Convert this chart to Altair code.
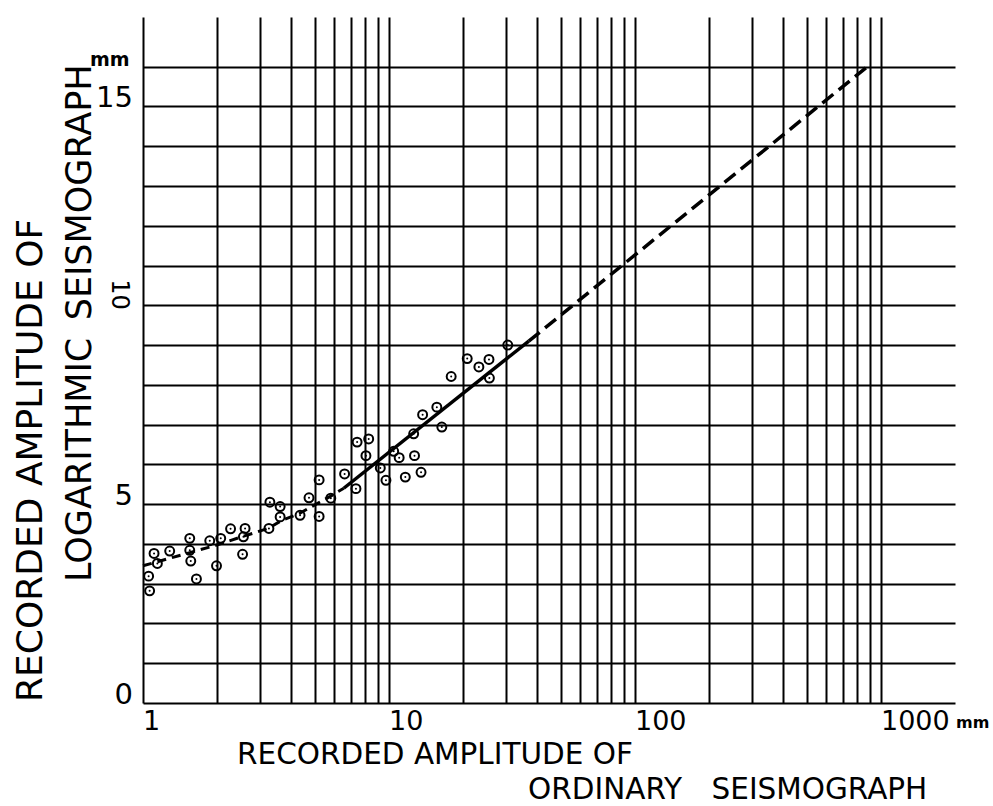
import altair as alt
import pandas as pd

# ---- data ----
amp_ordinary = [1.054, 1.064, 1.109, 1.144, 1.284, 1.549, 1.549, 1.564, 1.649, 1.868,
                1.99, 2.07, 2.27, 2.54, 2.60, 2.56, 3.25, 3.28, 3.61, 3.61,
                4.35, 4.73, 5.20, 5.20, 5.80, 6.60, 7.34, 7.42, 8.06, 8.27,
                9.22, 9.72, 10.45, 11.0, 11.65, 12.6, 12.7, 13.5, 13.7,
                15.65, 16.4, 17.9, 20.8, 23.2, 25.5, 25.6, 30.4]
amp_logarithmic = [3.19, 2.82, 3.76, 3.51, 3.82, 4.14, 3.84, 3.57, 3.12, 4.08,
                   3.45, 4.14, 4.38, 3.74, 4.39, 4.18, 4.39, 5.05, 4.94, 4.68,
                   4.72, 5.16, 5.61, 4.69, 5.15, 5.76, 5.39, 6.56, 6.22, 6.64,
                   5.91, 5.60, 6.33, 6.17, 5.68, 6.77, 6.22, 5.80, 7.25,
                   7.44, 6.94, 8.21, 8.66, 8.45, 8.64, 8.17, 9.00]

curve_x = [1.0, 1.99, 2.52, 3.23, 3.66, 4.28, 4.85, 5.75, 6.55]
curve_y = [3.45, 3.97, 4.18, 4.39, 4.59, 4.75, 4.94, 5.19, 5.40]
solid_x = [6.55, 37.0]
solid_y = [5.40, 9.10]
upper_x = [37.0, 900.0]
upper_y = [9.10, 16.05]

x_grid = [1, 2, 3, 4, 5, 6, 7, 8, 9, 10, 20, 30, 40, 50, 60, 70, 80, 90,
          100, 200, 300, 400, 500, 600, 700, 800, 900, 1000]
y_grid = [0, 1, 2, 3, 4, 5, 6, 7, 8, 9, 10, 11, 12, 13, 14, 15, 16]

x_tick_values = [1, 10, 100, 1000]
x_tick_labels = ["1", "10", "100", "1000"]
y_tick_values = [0, 5, 10, 15]
y_tick_labels = ["0", "5", "10", "15"]

x_title = ["RECORDED AMPLITUDE OF", "ORDINARY\u2003SEISMOGRAPH"]
y_title = ["RECORDED AMPLITUDE OF", "LOGARITHMIC\u2002SEISMOGRAPH"]
unit = "mm"

FONT = "DejaVu Sans"
W, H = 812, 686

xs = alt.Scale(type="log", domain=[1, 2000], nice=False)
ys = alt.Scale(domain=[0, 17.25], nice=False, zero=False)

pts = pd.DataFrame({"x": amp_ordinary, "y": amp_logarithmic})
curve = pd.DataFrame({"x": curve_x, "y": curve_y, "o": list(range(len(curve_x)))})
solid = pd.DataFrame({"x": solid_x, "y": solid_y})
upper = pd.DataFrame({"x": upper_x, "y": upper_y})

xaxis = alt.Axis(values=x_grid, labels=False, ticks=False, domain=False, title=None,
                 grid=True, gridColor="black", gridWidth=2, gridOpacity=1)
yaxis = alt.Axis(values=y_grid, labels=False, ticks=False, domain=False, title=None,
                 grid=True, gridColor="black", gridWidth=2, gridOpacity=1)

base_pts = alt.Chart(pts)
circles = base_pts.mark_point(shape="circle", filled=False, color="black",
                              strokeWidth=2, size=80, opacity=1).encode(
    x=alt.X("x:Q", scale=xs, axis=xaxis),
    y=alt.Y("y:Q", scale=ys, axis=yaxis),
)
dots = base_pts.mark_circle(color="black", size=4, opacity=1).encode(
    x=alt.X("x:Q", scale=xs), y=alt.Y("y:Q", scale=ys))

curve_line = alt.Chart(curve).mark_line(color="black", strokeWidth=3,
                                        strokeDash=[9, 6]).encode(
    x=alt.X("x:Q", scale=xs), y=alt.Y("y:Q", scale=ys), order="o:Q")
solid_line = alt.Chart(solid).mark_line(color="black", strokeWidth=3.5).encode(
    x=alt.X("x:Q", scale=xs), y=alt.Y("y:Q", scale=ys))
upper_line = alt.Chart(upper).mark_line(color="black", strokeWidth=3.5,
                                        strokeDash=[14, 7]).encode(
    x=alt.X("x:Q", scale=xs), y=alt.Y("y:Q", scale=ys))

xt = pd.DataFrame({"x": x_tick_values, "label": x_tick_labels})
x_labels = alt.Chart(xt).mark_text(align="left", baseline="alphabetic", fontSize=27,
                                   font=FONT, color="black", dx=0).encode(
    x=alt.X("x:Q", scale=xs), y=alt.value(713), text="label:N")

yt = pd.DataFrame({"y": y_tick_values, "label": y_tick_labels})
y_labels_up = alt.Chart(yt).transform_filter("datum.y != 10").mark_text(
    align="right", baseline="alphabetic", fontSize=29, font=FONT, color="black",
    dx=-10, dy=1).encode(
    x=alt.value(0), y=alt.Y("y:Q", scale=ys), text="label:N")
y_labels_rot = alt.Chart(yt).transform_filter("datum.y == 10").mark_text(
    align="left", baseline="alphabetic", fontSize=24, font=FONT, color="black",
    angle=90, dx=-26, dy=31).encode(
    x=alt.value(0), y=alt.Y("y:Q", scale=ys), text="label:N")

one = pd.DataFrame({"k": [0]})


def txt(s, x, y, size, angle=0, weight="normal"):
    kw = dict(align="left", baseline="alphabetic", fontSize=size, font=FONT,
              color="black", fontWeight=weight, text=s)
    if angle:
        kw["angle"] = angle
    return alt.Chart(one).mark_text(**kw).encode(x=alt.value(x), y=alt.value(y))


titles = [
    txt(x_title[0], 94, 747, 29.5),
    txt(x_title[1], 385, 781.5, 29.5),
    txt(y_title[0], -101, 685, 36, angle=270),
    txt(y_title[1], -52, 565, 35, angle=270),
    txt(unit, 813, 711, 16, weight="bold"),
    txt(unit, -53, 49, 19, weight="bold"),
]

chart = alt.layer(
    circles, dots, curve_line, solid_line, upper_line,
    x_labels, y_labels_up, y_labels_rot, *titles
).properties(
    width=W, height=H,
    padding={"left": 143, "top": 17, "right": 38, "bottom": 103},
    autosize=alt.AutoSizeParams(type="none"),
    background="white",
).configure_view(stroke=None)

chart.save("out.html", embed_options={"renderer": "svg", "actions": False})
